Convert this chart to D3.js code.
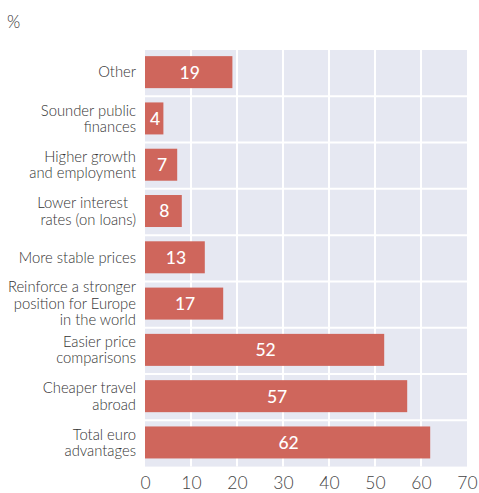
<!DOCTYPE html>
<html>
<head>
<meta charset="utf-8">
<script src="https://cdn.jsdelivr.net/npm/d3@7"></script>
<style>
  html, body { margin: 0; padding: 0; background: #ffffff; }
  svg { display: block; font-family: Lato, "Open Sans", sans-serif; }
</style>
</head>
<body>
<svg id="chart" width="479" height="493"></svg>
<script>
// Perceived advantages of the euro, share of respondents (%)
const categories = [
  "Other",
  "Sounder public\nfinances",
  "Higher growth\nand employment",
  "Lower interest\u00a0\u00a0\nrates (on loans)",
  "More stable prices",
  "Reinforce a stronger\nposition for Europe\nin the world",
  "Easier price\ncomparisons",
  "Cheaper travel\nabroad",
  "Total euro\nadvantages"
];
const values = [19, 4, 7, 8, 13, 17, 52, 57, 62];
const xTicks = [0, 10, 20, 30, 40, 50, 60, 70];
const unitLabel = "%";

const svg = d3.select("#chart");
const margin = { top: 50, right: 12, bottom: 26, left: 145 };
const width = 479 - margin.left - margin.right;
const height = 493 - margin.top - margin.bottom - 0.4;

const x = d3.scaleLinear().domain([0, 70]).range([0, width]);
const y = d3.scaleBand().domain(categories).range([0, height]).paddingInner(0).paddingOuter(0);
const barH = 32;

const g = svg.append("g").attr("transform", `translate(${margin.left},${margin.top})`);

// panel background
g.append("rect")
  .attr("x", 0).attr("y", 0)
  .attr("width", width).attr("height", height)
  .attr("fill", "#e6e8f2");

// vertical grid
g.append("g").selectAll("line")
  .data(xTicks.slice(1, -1))
  .join("line")
  .attr("x1", d => x(d)).attr("x2", d => x(d))
  .attr("y1", 0).attr("y2", height)
  .attr("stroke", "#ffffff").attr("stroke-width", 2);

// horizontal grid between categories
g.append("g").selectAll("line")
  .data(categories.slice(1))
  .join("line")
  .attr("x1", 0).attr("x2", width)
  .attr("y1", d => y(d)).attr("y2", d => y(d))
  .attr("stroke", "#ffffff").attr("stroke-width", 2);

// bars
const barY = c => y(c) + (y.bandwidth() - barH) / 2 - 1;
g.append("g").selectAll("rect")
  .data(categories)
  .join("rect")
  .attr("x", 0)
  .attr("y", c => barY(c))
  .attr("width", (c, i) => x(values[i]))
  .attr("height", barH)
  .attr("fill", "#cf665c");

// value labels
g.append("g").selectAll("text")
  .data(categories)
  .join("text")
  .attr("x", (c, i) => x(values[i]) / 2 + 1)
  .attr("y", c => barY(c) + barH / 2)
  .attr("dy", "0.37em")
  .attr("text-anchor", "middle")
  .attr("fill", "#ffffff")
  .attr("font-size", 17.5)
  .attr("font-weight", 500)
  .text((c, i) => values[i]);

// category labels
const lineH = 16.5;
const catG = g.append("g");
categories.forEach(c => {
  const lines = c.split("\n");
  const cy = barY(c) + barH / 2;
  const t = catG.append("text")
    .attr("text-anchor", "end")
    .attr("fill", "#333333")
    .attr("font-size", 14.8)
    .attr("font-weight", 300)
    .attr("x", -9);
  lines.forEach((ln, k) => {
    t.append("tspan")
      .attr("x", -9)
      .attr("y", cy + (k - (lines.length - 1) / 2) * lineH)
      .attr("dy", "0.36em")
      .text(ln);
  });
});

// x axis
const xAxis = d3.axisBottom(x).tickValues(xTicks).tickSize(0).tickPadding(10);
const ax = g.append("g").attr("transform", `translate(0,${height})`).call(xAxis);
ax.select(".domain").remove();
ax.selectAll("text")
  .attr("font-family", "Lato, 'Open Sans', sans-serif")
  .attr("font-size", 17.5)
  .attr("font-weight", 300)
  .attr("fill", "#444444");

// unit label
svg.append("text")
  .attr("x", 7).attr("y", 28)
  .attr("fill", "#333333")
  .attr("font-size", 17)
  .attr("font-weight", 300)
  .text(unitLabel);
</script>
</body>
</html>
